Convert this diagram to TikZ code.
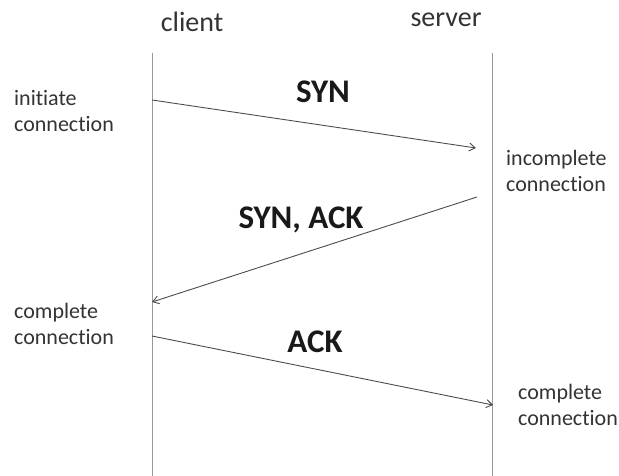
\documentclass[tikz,border=0pt]{standalone}
\usepackage{fontspec}
\setmainfont{Carlito}[Ligatures=NoCommon]
\usepackage{tikz}
\usetikzlibrary{arrows.meta}
\tikzstyle{life}=[draw=black!40, line width=1pt]
\tikzstyle{msg}=[draw=black!70, line width=0.9pt, -{Straight Barb[length=6pt,width=8pt]}]
\tikzstyle{side}=[anchor=base, inner sep=0pt, text=black!80, font=\fontsize{28}{32}\selectfont]
\tikzstyle{flag}=[anchor=base, inner sep=0pt, text=black!90, font=\fontsize{33}{38}\selectfont\bfseries]
\tikzstyle{note}=[anchor=base west, align=left, inner sep=0pt, text=black!80, font=\fontsize{22}{26}\selectfont]

\begin{document}
\begin{tikzpicture}[x=1pt,y=-1pt]
    \useasboundingbox (0,0) rectangle (619,476);

    %lifelines
    \coordinate (ctop) at (152,53);
    \coordinate (cbot) at (152,476);
    \coordinate (stop) at (492,53);
    \coordinate (sbot) at (492,476);
    \draw [life] (ctop) -- (cbot);
    \draw [life] (stop) -- (sbot);

    \node [side] (client) at (192,32) {client};
    \node [side] (server) at (446,27) {server};

    %messages
    \coordinate (syn0) at (152,100);
    \coordinate (syn1) at (476,148);
    \coordinate (synack0) at (477,197);
    \coordinate (synack1) at (152,302);
    \coordinate (ack0) at (152,336);
    \coordinate (ack1) at (493,405);
    \draw [msg] (syn0) -- (syn1);
    \draw [msg] (synack0) -- (synack1);
    \draw [msg] (ack0) -- (ack1);

    \node [flag] (syn) at (323,103) {SYN};
    \node [flag] (synack) at (301,229) {SYN, ACK};
    \node [flag] (ack) at (315,352) {ACK};

    %states (base = last line)
    \node [note] (init) at (14,132) {initiate\\connection};
    \node [note] (incomp) at (506,192) {incomplete\\connection};
    \node [note] (ccomp) at (14,344) {complete\\connection};
    \node [note] (scomp) at (518,425) {complete\\connection};

\end{tikzpicture}
\end{document}
